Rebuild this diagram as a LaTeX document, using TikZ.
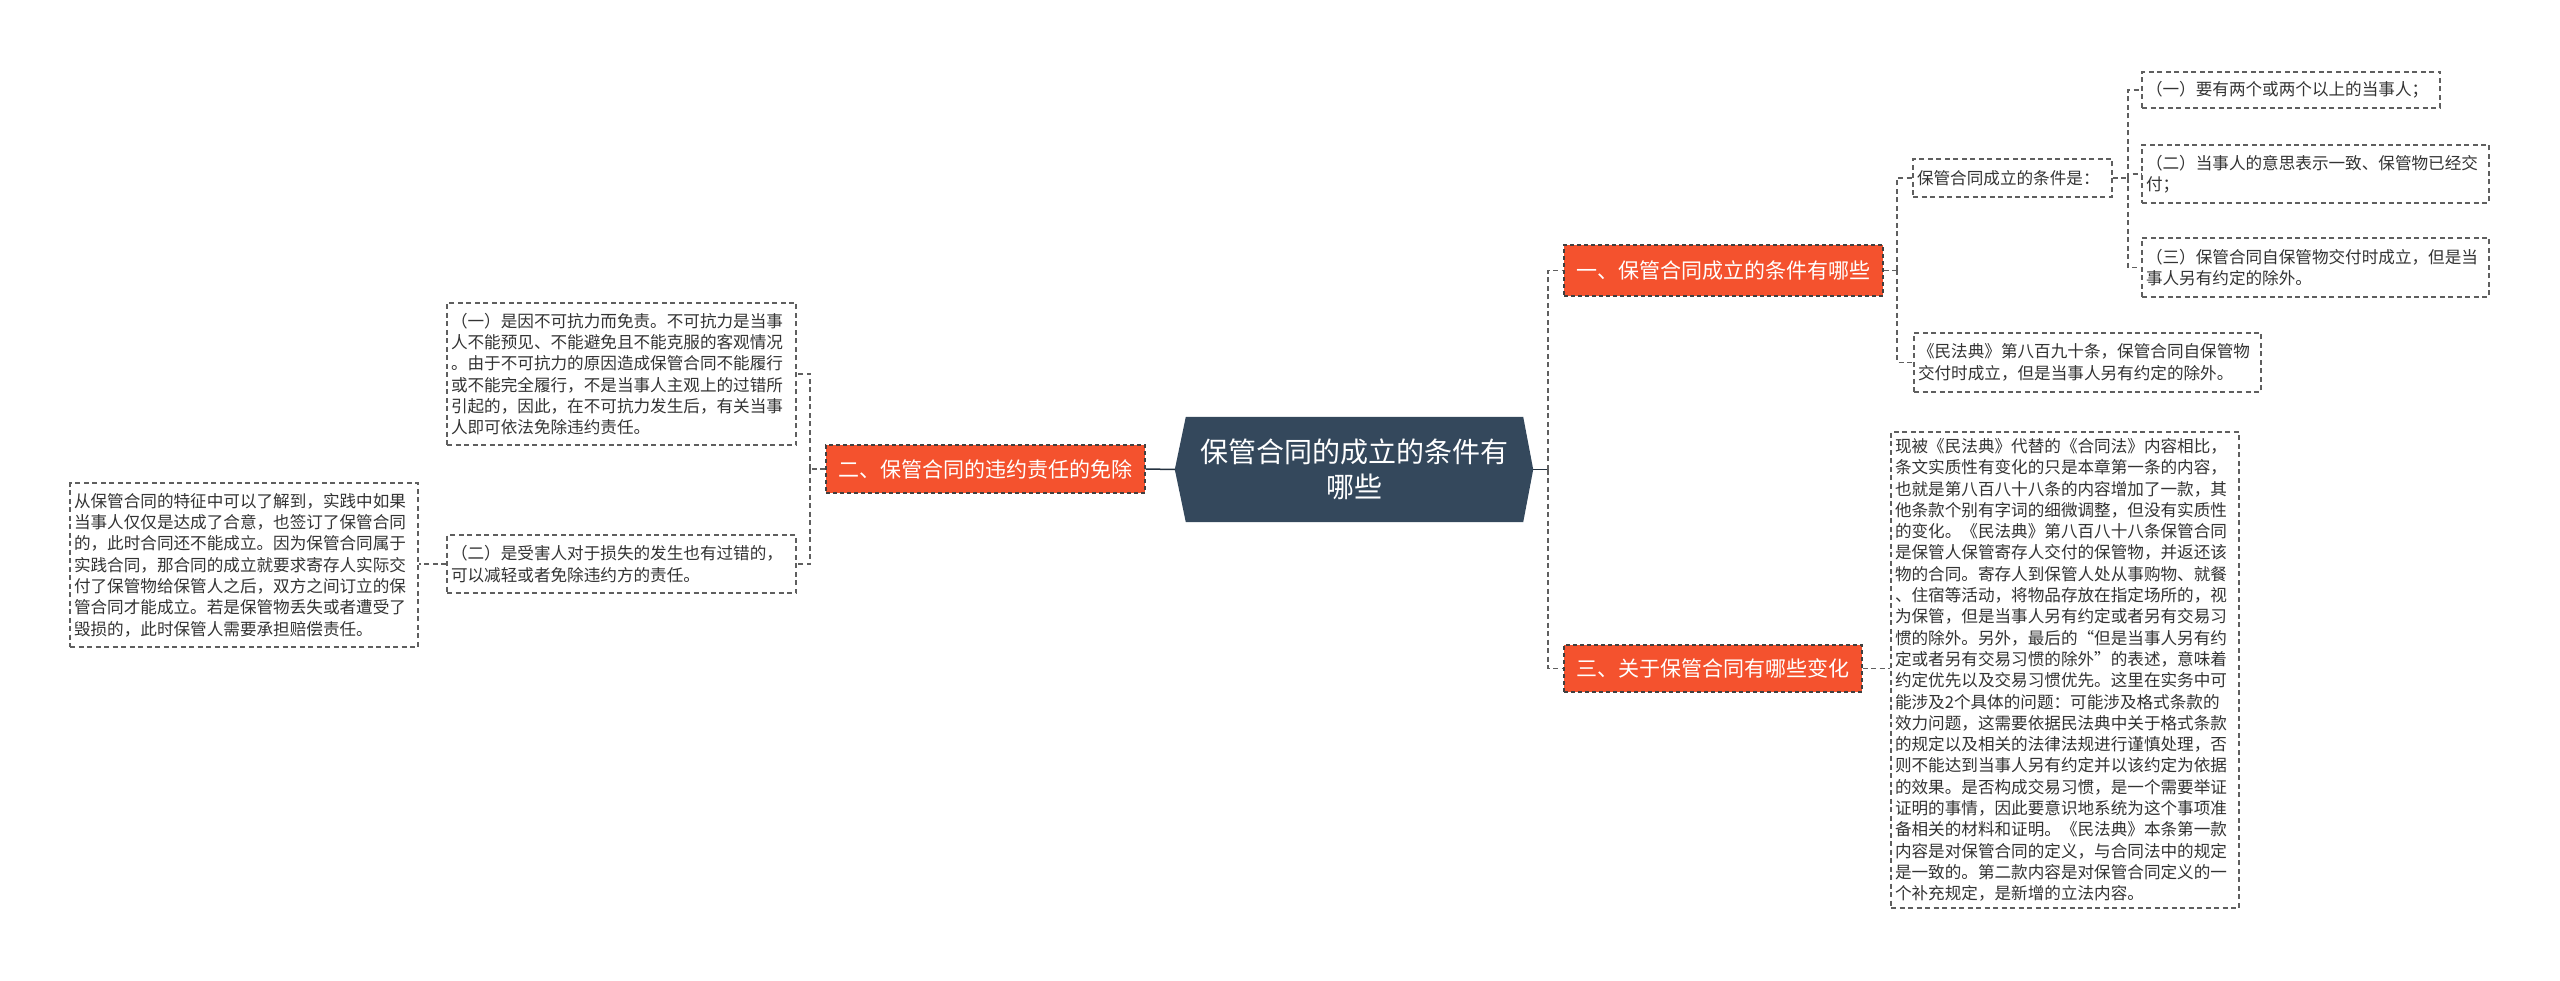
\documentclass[tikz,border=0pt]{standalone}
\usepackage{fontspec}
\setmainfont{Noto Sans CJK SC}
\usetikzlibrary{backgrounds,calc}
\definecolor{hub}{RGB}{52,72,92}
\definecolor{branch}{RGB}{244,82,46}
\definecolor{txt}{RGB}{51,51,51}
\definecolor{edge}{RGB}{95,95,95}
\tikzset{
  leaf/.style n args={2}{draw=edge, dash pattern=on 5pt off 3.5pt, line width=1.2pt,
    text=txt, align=left, inner xsep=4pt, inner ysep=2pt,
    font=\fontsize{16.6}{21.3}\selectfont, text width=#1, minimum height=#2},
  branchbox/.style n args={2}{fill=branch, draw=black!75, dash pattern=on 4pt off 3pt,
    line width=1.2pt, text=white, font=\fontsize{21}{26}\selectfont,
    inner xsep=0pt, inner ysep=0pt, minimum width=#1, minimum height=#2},
  link/.style={draw=edge, line width=1.3pt, dash pattern=on 5pt off 3.5pt},
  hublink/.style={draw=hub!70!black, line width=1.5pt},
}
\begin{document}
\begin{tikzpicture}[x=1pt,y=-1pt]
\useasboundingbox (0,0) rectangle (2560,981);

% central node
\node[text=white, align=center, font=\fontsize{28}{35}\selectfont,
      minimum width=337, minimum height=105, inner sep=0pt] (c) at (1354.5,469.5)
      {保管合同的成立的条件有\\哪些};
\coordinate (cR) at ($(c.east)+(10,0)$);
\coordinate (cL) at ($(c.west)+(-11,0)$);
\begin{scope}[on background layer]
\fill[white] (0,0) rectangle (2560,981);
\fill[hub] (c.north west) -- (c.north east) -- (cR) -- (c.south east)
  -- (c.south west) -- (cL) -- cycle;
\end{scope}

% branches
\node[branchbox={319}{51}] (b1) at (1723.5,270.5) {一、保管合同成立的条件有哪些};
\node[branchbox={319}{48}] (b2) at (985.5,469) {二、保管合同的违约责任的免除};
\node[branchbox={298}{47}] (b3) at (1713,668.5) {三、关于保管合同有哪些变化};

% right side, branch 1
\node[leaf={191}{38}] (A) at (2012.5,178) {保管合同成立的条件是：};
\node[leaf={290}{36}] (A1) at (2291,90) {（一）要有两个或两个以上的当事人；};
\node[leaf={339}{58}] (A2) at (2315.5,174) {（二）当事人的意思表示一致、保管物已经交\\付；};
\node[leaf={339}{59}] (A3) at (2315.5,267.5) {（三）保管合同自保管物交付时成立，但是当\\事人另有约定的除外。};
\node[leaf={339}{59}] (B) at (2087.5,362.5) {《民法典》第八百九十条，保管合同自保管物\\交付时成立，但是当事人另有约定的除外。};

% right side, branch 3
\node[leaf={340}{476}] (big) at (2065,670) {现被《民法典》代替的《合同法》内容相比，\\
条文实质性有变化的只是本章第一条的内容，\\
也就是第八百八十八条的内容增加了一款，其\\
他条款个别有字词的细微调整，但没有实质性\\
的变化。《民法典》第八百八十八条保管合同\\
是保管人保管寄存人交付的保管物，并返还该\\
物的合同。寄存人到保管人处从事购物、就餐\\
、住宿等活动，将物品存放在指定场所的，视\\
为保管，但是当事人另有约定或者另有交易习\\
惯的除外。另外，最后的“但是当事人另有约\\
定或者另有交易习惯的除外”的表述，意味着\\
约定优先以及交易习惯优先。这里在实务中可\\
能涉及2个具体的问题：可能涉及格式条款的\\
效力问题，这需要依据民法典中关于格式条款\\
的规定以及相关的法律法规进行谨慎处理，否\\
则不能达到当事人另有约定并以该约定为依据\\
的效果。是否构成交易习惯，是一个需要举证\\
证明的事情，因此要意识地系统为这个事项准\\
备相关的材料和证明。《民法典》本条第一款\\
内容是对保管合同的定义，与合同法中的规定\\
是一致的。第二款内容是对保管合同定义的一\\
个补充规定，是新增的立法内容。};

% left side, branch 2
\node[leaf={341}{142}] (L1) at (621.5,374) {（一）是因不可抗力而免责。不可抗力是当事\\
人不能预见、不能避免且不能克服的客观情况\\
。由于不可抗力的原因造成保管合同不能履行\\
或不能完全履行，不是当事人主观上的过错所\\
引起的，因此，在不可抗力发生后，有关当事\\
人即可依法免除违约责任。};
\node[leaf={341}{58}] (L2) at (621.5,564) {（二）是受害人对于损失的发生也有过错的，\\
可以减轻或者免除违约方的责任。};
\node[leaf={340}{164}] (LL) at (244,565) {从保管合同的特征中可以了解到，实践中如果\\
当事人仅仅是达成了合意，也签订了保管合同\\
的，此时合同还不能成立。因为保管合同属于\\
实践合同，那合同的成立就要求寄存人实际交\\
付了保管物给保管人之后，双方之间订立的保\\
管合同才能成立。若是保管物丢失或者遭受了\\
毁损的，此时保管人需要承担赔偿责任。};

% buses
\coordinate (rbus) at (1548,469.5);
\coordinate (lbus) at (810,469);
\coordinate (b1bus) at (1897,270.5);
\coordinate (Abus) at (2128,178);

% connectors
\draw[hublink] (cR) -- (rbus);
\draw[link] (rbus) |- (b1.west);
\draw[link] (rbus) |- (b3.west);
\draw[hublink] (cL) -- (b2.east);
\draw[link] (b2.west) -- (lbus);
\draw[link] (lbus) |- (L1.east);
\draw[link] (lbus) |- (L2.east);
\draw[link] (L2.west) -- (L2.west -| LL.east);
\draw[link] (b1.east) -- (b1bus);
\draw[link] (b1bus) |- (A.west);
\draw[link] (b1bus) |- (B.west);
\draw[link] (A.east) -- (Abus);
\draw[link] (Abus) |- (A1.west);
\draw[link] (Abus) |- (A2.west);
\draw[link] (Abus) |- (A3.west);
\draw[link] (b3.east) -- (b3.east -| big.west);
\end{tikzpicture}
\end{document}
